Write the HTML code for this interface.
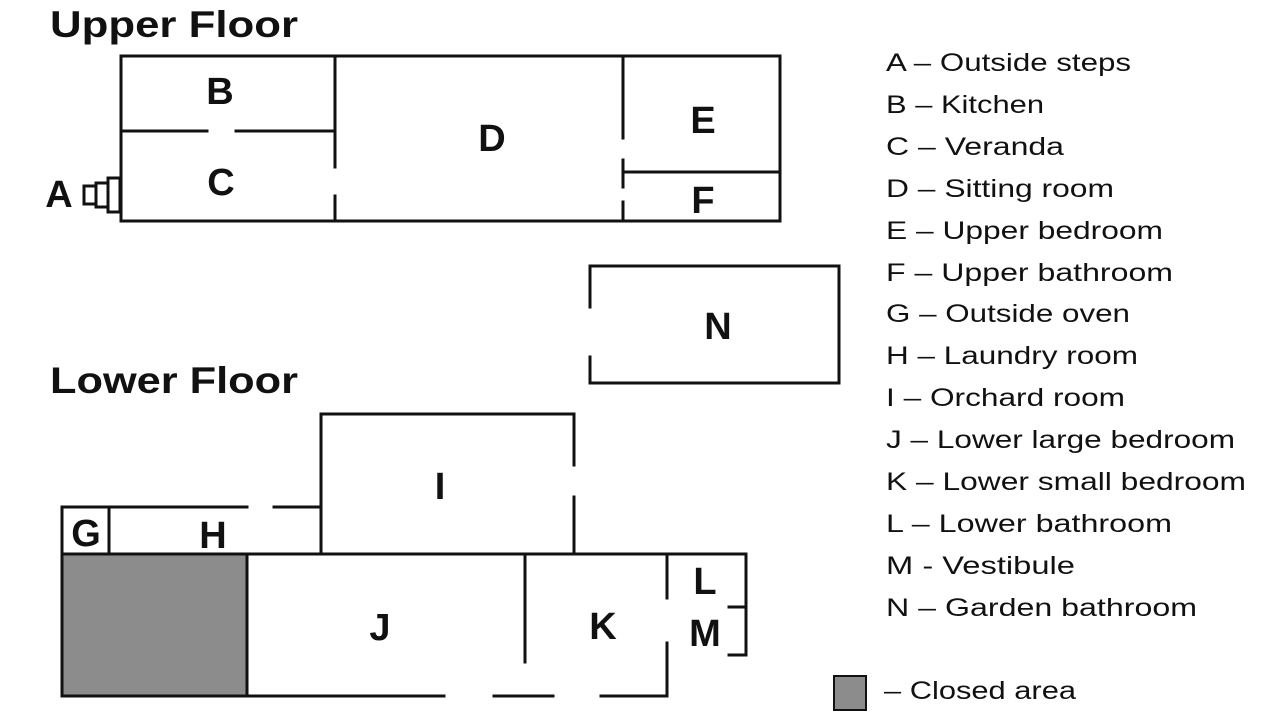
<!DOCTYPE html>
<html><head><meta charset="utf-8"><style>
html,body{margin:0;padding:0;background:#fff;}
svg{display:block;}
.t{font-family:"Liberation Sans",sans-serif;font-weight:bold;font-size:38px;fill:#111;}
.h{font-family:"Liberation Sans",sans-serif;font-weight:bold;font-size:37px;fill:#111;}
.l{font-family:"Liberation Sans",sans-serif;font-size:25px;fill:#111;}
</style></head><body>
<svg width="1280" height="720" viewBox="0 0 1280 720">
<g stroke="#111" stroke-width="3" fill="none" stroke-linecap="square">
<!-- upper floor -->
<rect x="121" y="56" width="659" height="165"/>
<line x1="121" y1="131" x2="207" y2="131"/>
<line x1="236" y1="131" x2="334" y2="131"/>
<line x1="335" y1="56" x2="335" y2="167"/>
<line x1="335" y1="196" x2="335" y2="221"/>
<line x1="623" y1="56" x2="623" y2="138"/>
<line x1="623" y1="160" x2="623" y2="187"/>
<line x1="623" y1="202" x2="623" y2="221"/>
<line x1="623" y1="172" x2="780" y2="172"/>
<rect x="108" y="178" width="12" height="34"/>
<rect x="96" y="183" width="12" height="24"/>
<rect x="84" y="186" width="12" height="18"/>
<!-- N -->
<polyline points="590,307 590,266 839,266 839,383 590,383 590,357"/>
<!-- lower floor -->
<polyline points="62,553 62,507 247,507"/>
<line x1="274" y1="507" x2="321" y2="507"/>
<line x1="109" y1="507" x2="109" y2="553"/>
<polyline points="321,553 321,414 574,414 574,465"/>
<line x1="574" y1="497" x2="574" y2="553"/>
<line x1="62" y1="554" x2="746" y2="554"/>
<line x1="247" y1="696" x2="444" y2="696"/>
<line x1="494" y1="696" x2="553" y2="696"/>
<polyline points="601,696 667,696 667,643"/>
<line x1="667" y1="554" x2="667" y2="598"/>
<line x1="525" y1="554" x2="525" y2="662"/>
<polyline points="746,554 746,655 729,655"/>
<line x1="729" y1="607" x2="746" y2="607"/>
</g>
<rect x="62" y="554" width="185" height="142" fill="#8c8c8c" stroke="#111" stroke-width="3"/>
<rect x="834" y="676" width="32" height="34" fill="#8c8c8c" stroke="#111" stroke-width="2"/>
<text class="h" x="50" y="37" textLength="248" lengthAdjust="spacingAndGlyphs">Upper Floor</text>
<text class="h" x="50" y="393" textLength="248" lengthAdjust="spacingAndGlyphs">Lower Floor</text>
<g class="t" text-anchor="middle">
<text x="220" y="104">B</text><text x="221" y="195">C</text><text x="492" y="151">D</text>
<text x="703" y="133">E</text><text x="703" y="213">F</text><text x="59" y="207">A</text>
<text x="718" y="339">N</text><text x="440" y="499">I</text><text x="86" y="546">G</text>
<text x="213" y="548">H</text><text x="380" y="640">J</text><text x="603" y="639">K</text>
<text x="705" y="594">L</text><text x="705" y="646">M</text>
</g>
<g class="l">
<text x="886" y="71" textLength="245" lengthAdjust="spacingAndGlyphs">A – Outside steps</text>
<text x="886" y="113" textLength="158" lengthAdjust="spacingAndGlyphs">B – Kitchen</text>
<text x="886" y="155" textLength="178" lengthAdjust="spacingAndGlyphs">C –  Veranda</text>
<text x="886" y="197" textLength="228" lengthAdjust="spacingAndGlyphs">D – Sitting room</text>
<text x="886" y="239" textLength="277" lengthAdjust="spacingAndGlyphs">E – Upper bedroom</text>
<text x="886" y="281" textLength="287" lengthAdjust="spacingAndGlyphs">F – Upper bathroom</text>
<text x="886" y="322" textLength="244" lengthAdjust="spacingAndGlyphs">G – Outside oven</text>
<text x="886" y="364" textLength="252" lengthAdjust="spacingAndGlyphs">H – Laundry room</text>
<text x="886" y="406" textLength="239" lengthAdjust="spacingAndGlyphs">I – Orchard room</text>
<text x="886" y="448" textLength="349" lengthAdjust="spacingAndGlyphs">J – Lower large bedroom</text>
<text x="886" y="490" textLength="360" lengthAdjust="spacingAndGlyphs">K – Lower small bedroom</text>
<text x="886" y="532" textLength="286" lengthAdjust="spacingAndGlyphs">L – Lower bathroom</text>
<text x="886" y="574" textLength="189" lengthAdjust="spacingAndGlyphs">M - Vestibule</text>
<text x="886" y="616" textLength="311" lengthAdjust="spacingAndGlyphs">N – Garden bathroom</text>
<text x="884" y="699" textLength="192" lengthAdjust="spacingAndGlyphs">– Closed area</text>
</g>
</svg>
</body></html>
